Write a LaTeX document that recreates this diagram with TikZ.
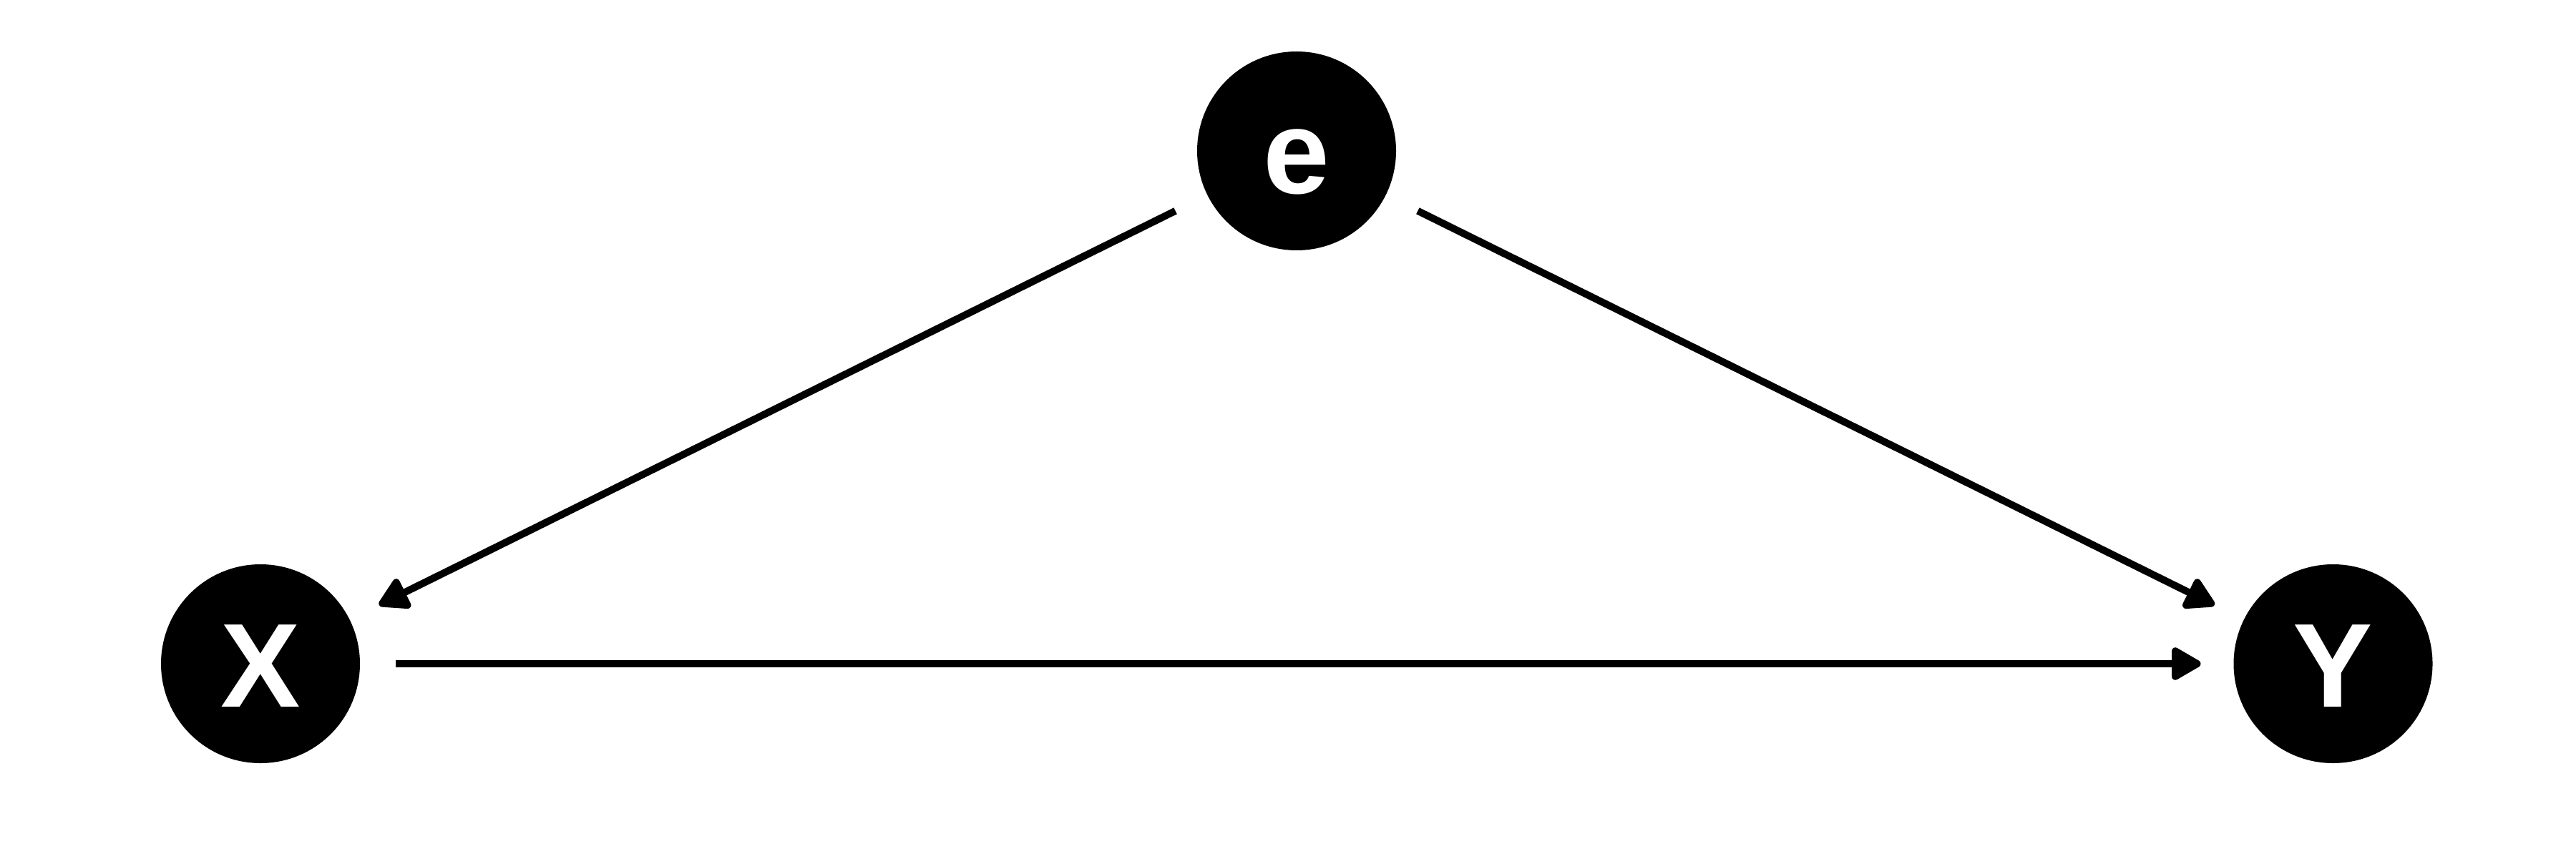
\documentclass[tikz,border=0pt]{standalone}
\usepackage{fontspec}
\setmainfont{Liberation Sans}
\usetikzlibrary{arrows.meta}
\begin{document}
\begin{tikzpicture}[
  var/.style={circle, fill=black, inner sep=0pt, outer sep=0pt, minimum size=2.78cm,
    text=white, font=\fontsize{47.5}{50}\selectfont\bfseries, text height=1.2cm, text depth=0pt},
  edge/.style={line width=0.1cm, -{Triangle[length=4.6mm, width=5mm, round]},
    shorten <=0.5cm, shorten >=0.46cm}
]
\useasboundingbox (0,0) rectangle (36,12);
\node[var] (e) at (18.12,9.89) {e};
\node[var] (x) at (3.64,2.72) {X};
\node[var] (y) at (32.605,2.72) {Y};
\draw[edge] (e) -- (x);
\draw[edge] (e) -- (y);
\draw[edge] (x) -- (y);
\end{tikzpicture}
\end{document}
